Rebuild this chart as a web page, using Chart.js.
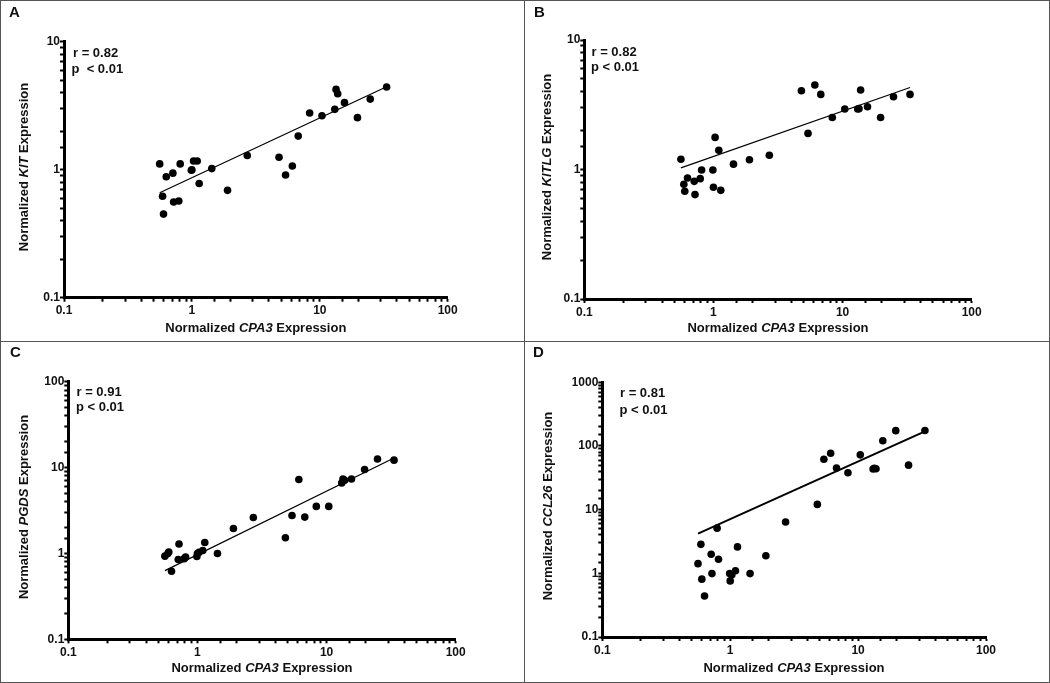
<!DOCTYPE html>
<html>
<head>
<meta charset="utf-8">
<script src="https://cdn.jsdelivr.net/npm/chart.js@4.4.1/dist/chart.umd.min.js"></script>
<style>
  html, body { margin: 0; padding: 0; background: #fff; }
  #wrap { position: relative; width: 1050px; height: 683px; background: #fff; overflow: hidden;
          font-family: "Liberation Sans", Arial, sans-serif; color: #111; }
  #wrap canvas { position: absolute; }
  .rule { position: absolute; background: #555; }
  .txt { position: absolute; line-height: 1; white-space: pre; font-weight: bold; }
</style>
</head>
<body>
<div id="wrap">
  <canvas id="chartA" width="524" height="341" style="left:0;top:0"></canvas>
  <canvas id="chartB" width="524" height="341" style="left:525px;top:0"></canvas>
  <canvas id="chartC" width="524" height="341" style="left:0;top:342px"></canvas>
  <canvas id="chartD" width="524" height="341" style="left:525px;top:342px"></canvas>
</div>
<script>
// shared x values (CPA3) and per-panel y values
const cpa3  = [0.56, 0.59, 0.60, 0.63, 0.71, 0.72, 0.79, 0.81, 0.99, 1.00, 1.03, 1.10, 1.14, 1.43, 1.90,
               2.71, 4.80, 5.40, 6.10, 6.78, 8.33, 10.4, 13.1, 13.4, 13.8, 15.6, 19.7, 24.8, 33.3];
const kit   = [1.11, 0.62, 0.45, 0.88, 0.94, 0.56, 0.57, 1.11, 0.99, 1.00, 1.17, 1.17, 0.78, 1.02, 0.69,
               1.29, 1.25, 0.91, 1.07, 1.83, 2.77, 2.64, 2.96, 4.24, 3.92, 3.34, 2.55, 3.56, 4.43];
const kitlg = [1.20, 0.77, 0.68, 0.86, 0.81, 0.64, 0.85, 0.99, 0.99, 0.73, 1.77, 1.41, 0.69, 1.10, 1.19,
               1.29, 4.06, 1.90, 4.49, 3.80, 2.52, 2.93, 2.93, 2.95, 4.11, 3.05, 2.52, 3.65, 3.80];
const pgds  = [0.93, 1.00, 1.04, 0.62, 0.85, 1.29, 0.87, 0.91, 0.92, 1.00, 1.03, 1.08, 1.34, 1.00, 1.95,
               2.62, 1.52, 2.77, 7.27, 2.65, 3.53, 3.53, 6.60, 7.35, 7.10, 7.35, 9.5, 12.6, 12.2];
const ccl26 = [1.42, 2.85, 0.81, 0.44, 1.99, 0.99, 5.12, 1.66, 0.99, 0.76, 0.95, 1.10, 2.60, 0.99, 1.89,
               6.4, 12.1, 61.8, 77, 45, 38, 72.5, 43.5, 44.6, 44, 121, 174, 50, 175];

// regression line end points
const fitX      = [0.56, 33.3];
const fitKit    = [0.66, 4.45];
const fitKitlg  = [1.03, 4.30];
const fitPgds   = [0.63, 12.9];
const fitCcl26  = [4.2, 170];

const xTicks = [0.1, 1, 10, 100];

const FONT = '"Liberation Sans", Arial, sans-serif';
const W = 524, H = 341, AXW = 30;

function isDecade(v) {
    const l = Math.log10(v);
    return Math.abs(l - Math.round(l)) < 1e-9;
}

function logAxis(min, max, horiz) {
    return {
        type: 'logarithmic', min, max,
        afterFit: s => { if (horiz) s.height = AXW; else s.width = AXW; },
        grid  : { drawOnChartArea:false, drawTicks:true, tickLength:4, tickWidth:2, tickColor:'#000', color:'#000' },
        border: { display:true, width:3, color:'#000' },
        ticks : {
            autoSkip:false, maxRotation:0, minRotation:0, padding: horiz ? 2 : 0, color:'#111',
            font:{ family:FONT, size:12, weight:'bold' },
            callback: v => isDecade(v) ? String(+Number(v).toPrecision(3)) : ''
        }
    };
}

function makePanel(id, ys, fitY, yMax, area, lw) {
    new Chart(document.getElementById(id), {
        type: 'scatter',
        data: {
            datasets: [
                { data: cpa3.map((x, i) => ({ x, y: ys[i] })), pointRadius:3.8, pointHoverRadius:3.8,
                  backgroundColor:'#000', borderWidth:0 },
                { data: fitX.map((x, i) => ({ x, y: fitY[i] })), showLine:true, pointRadius:0,
                  borderColor:'#000', borderWidth:lw, fill:false }
            ]
        },
        options: {
            responsive:false, animation:false, devicePixelRatio:1,
            layout: { padding: { left: area.l - AXW, right: W - area.r, top: area.t, bottom: H - area.b - AXW } },
            plugins: { legend:{ display:false }, tooltip:{ enabled:false } },
            scales: { x: logAxis(xTicks[0], xTicks[xTicks.length-1], true), y: logAxis(0.1, yMax, false) }
        }
    });
}

makePanel('chartA', kit,   fitKit,   10,   { l:64,   r:447.7, t:41.7, b:297.7 }, 1.2);
makePanel('chartB', kitlg, fitKitlg, 10,   { l:59.3, r:446.7, t:40,   b:299   }, 1.2);
makePanel('chartC', pgds,  fitPgds,  100,  { l:68.3, r:455.7, t:39.7, b:297.3 }, 1.2);
makePanel('chartD', ccl26, fitCcl26, 1000, { l:77.3, r:461,   t:40.3, b:295   }, 2);

// frame rules
const wrap = document.getElementById('wrap');
function rule(x, y, w, h) {
    const d = document.createElement('div');
    d.className = 'rule';
    Object.assign(d.style, { left:x+'px', top:y+'px', width:w+'px', height:h+'px' });
    wrap.appendChild(d);
}
rule(0, 0, 1050, 1); rule(0, 682, 1050, 1); rule(0, 0, 1, 683); rule(1049, 0, 1, 683);
rule(524, 0, 1, 683); rule(0, 341, 1050, 1);

// text: x is left (or centre), y is baseline
function text(html, x, y, size, mode) {
    const d = document.createElement('div');
    d.className = 'txt';
    d.innerHTML = html;
    d.style.fontSize = size + 'px';
    const top = y - 0.8465 * size;
    d.style.left = x + 'px';
    d.style.top = top + 'px';
    if (mode === 'c') d.style.transform = 'translateX(-50%)';
    if (mode === 'v') {
        d.style.top = y + 'px';
        d.style.transform = 'translate(-50%,-50%) rotate(-90deg)';
    }
    wrap.appendChild(d);
}

text('A', 9, 17, 15);
text('B', 534, 17, 15);
text('C', 10, 357, 15);
text('D', 533, 357, 15);

text('r = 0.82', 73, 57.3, 13);  text('p  &lt; 0.01', 71.5, 73.3, 13);
text('r = 0.82', 591.5, 56, 13); text('p &lt; 0.01', 591, 71, 13);
text('r = 0.91', 76.5, 396, 13); text('p &lt; 0.01', 76, 411.5, 13);
text('r = 0.81', 620, 397.3, 13); text('p &lt; 0.01', 619.5, 414, 13);

const xTitle = 'Normalized <i>CPA3</i> Expression';
text(xTitle, 255.8, 332, 13, 'c');
text(xTitle, 778, 332, 13, 'c');
text(xTitle, 262, 672, 13, 'c');
text(xTitle, 794, 672, 13, 'c');

text('Normalized <i>KIT</i> Expression',   23,  167, 13, 'v');
text('Normalized <i>KITLG</i> Expression', 546, 167, 13, 'v');
text('Normalized <i>PGDS</i> Expression',  23,  507, 13, 'v');
text('Normalized <i>CCL26</i> Expression', 547, 506, 13, 'v');
</script>
</body>
</html>
